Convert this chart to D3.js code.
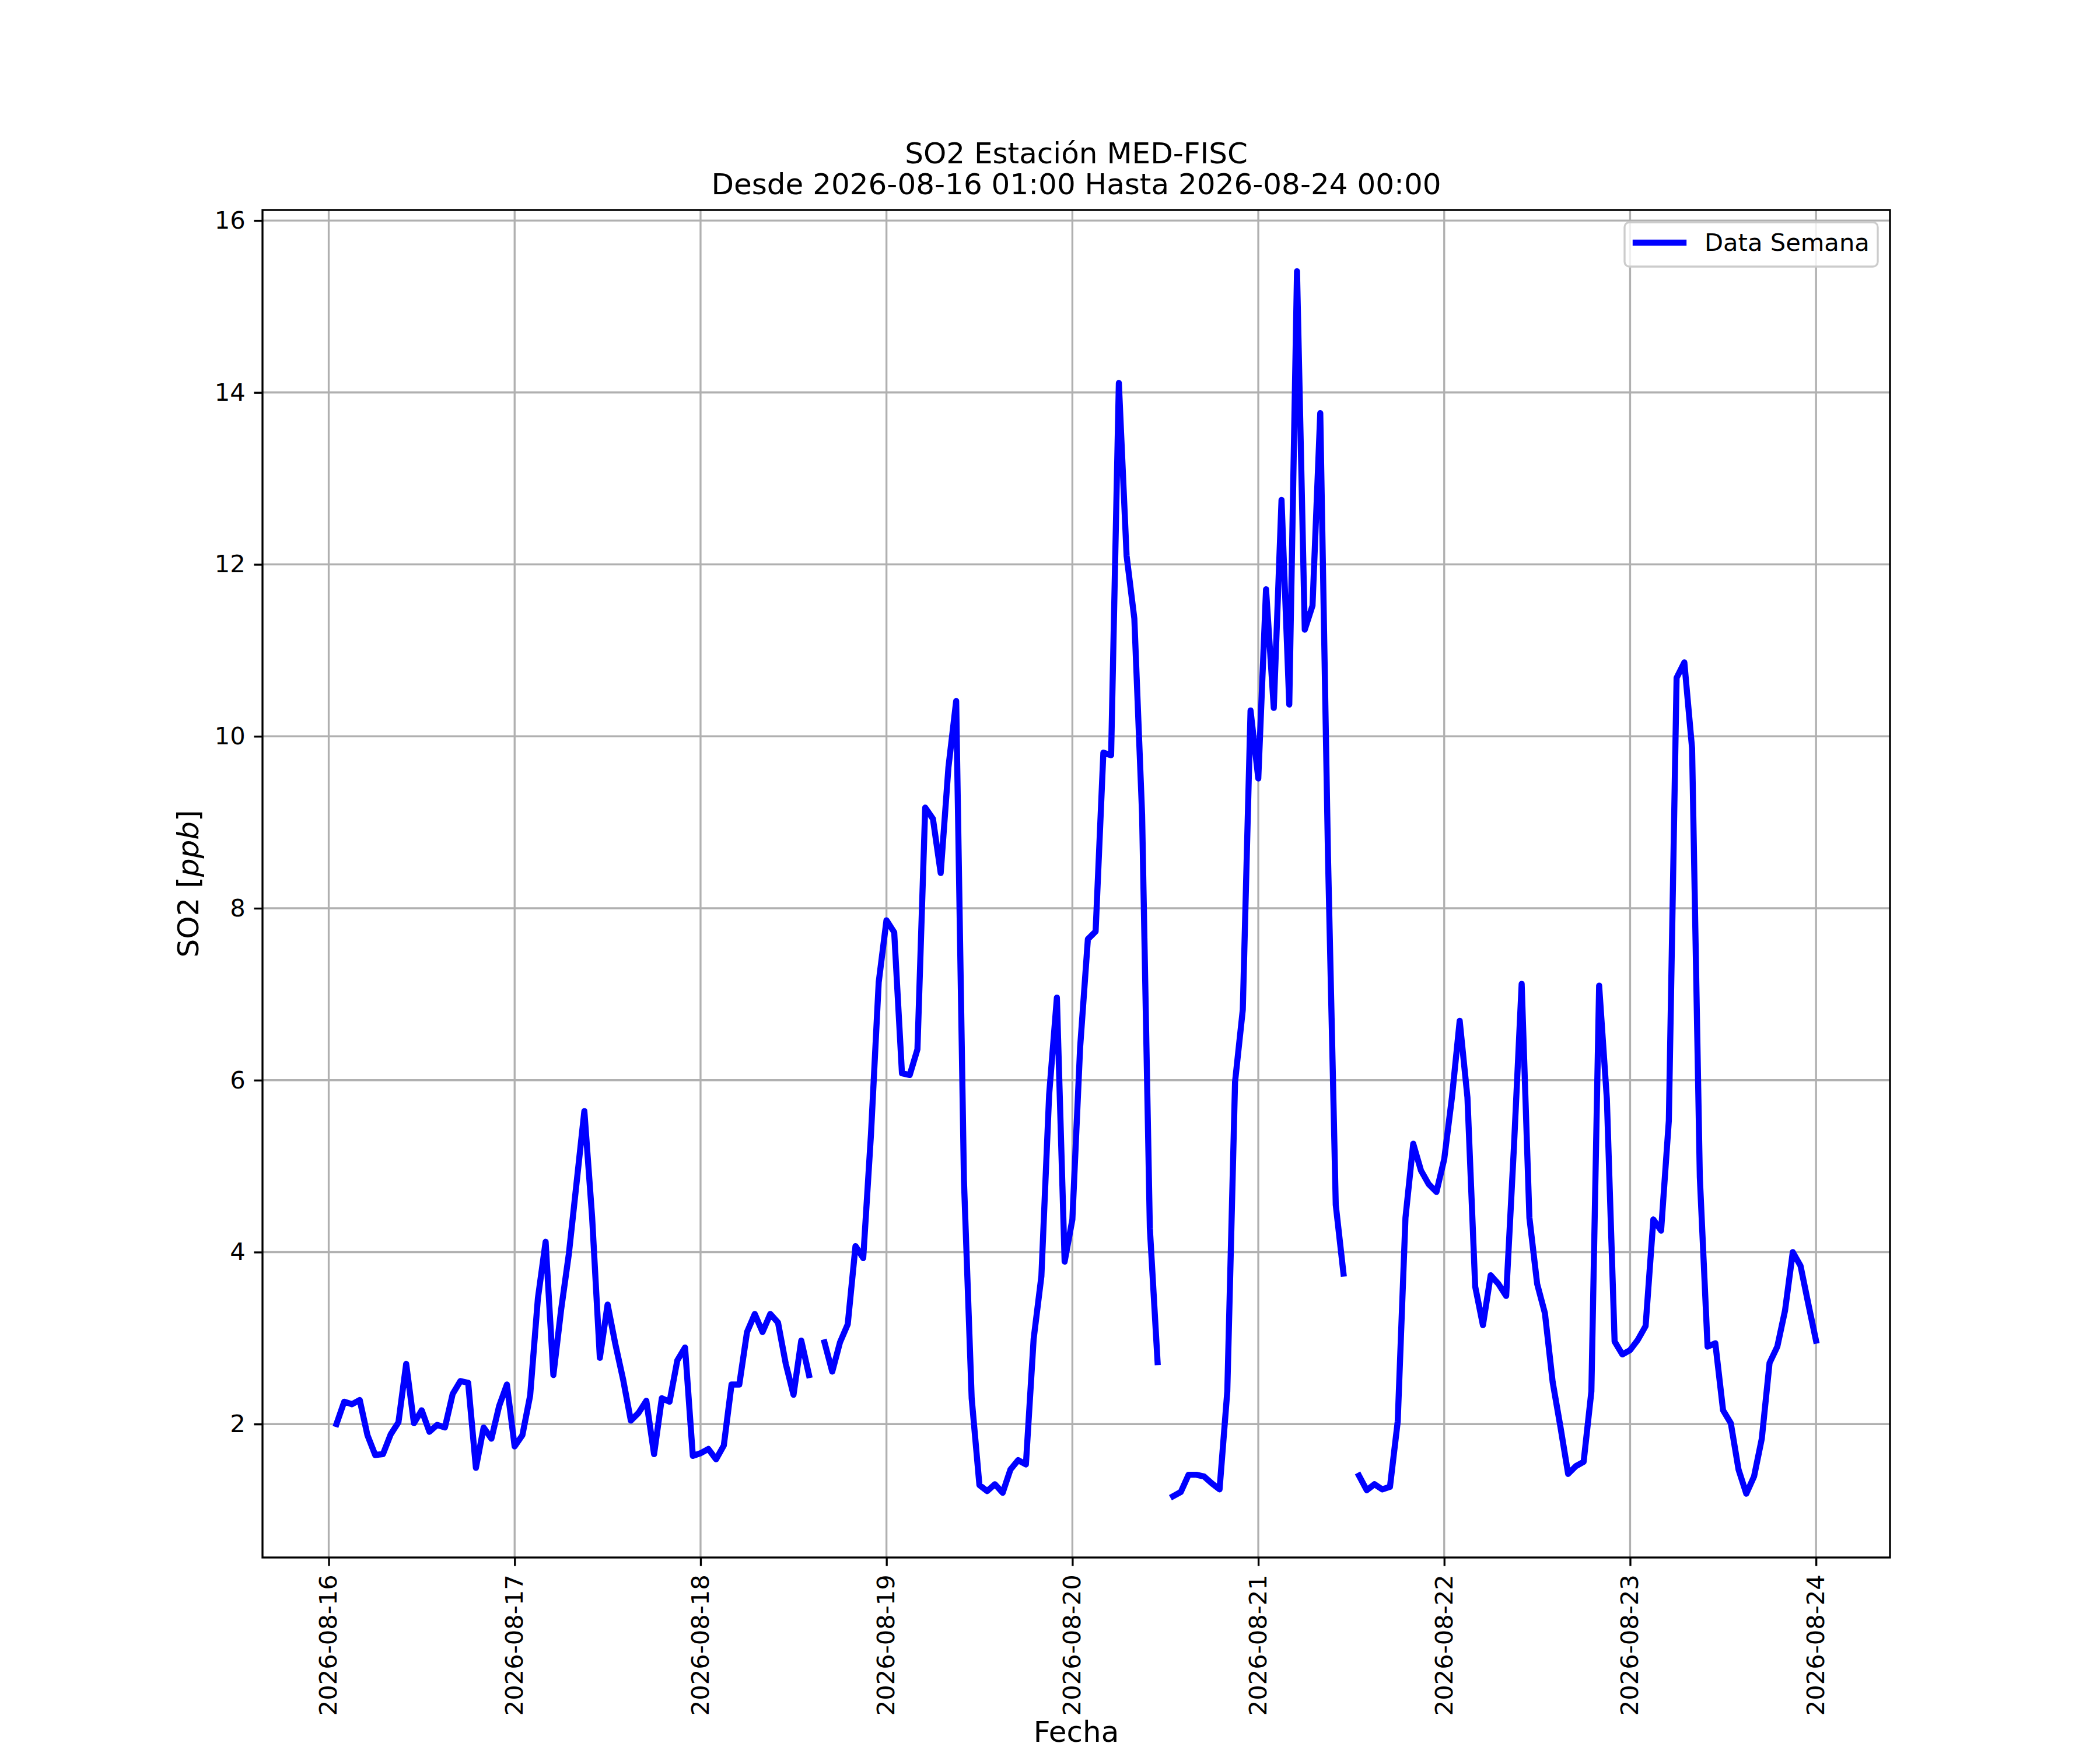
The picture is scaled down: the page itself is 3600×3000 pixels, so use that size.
<!DOCTYPE html>
<html>
<head>
<meta charset="utf-8">
<script src="https://cdn.jsdelivr.net/npm/d3@7"></script>
<style>
  body { margin: 0; background: #fff; }
  svg { display: block; font-family: 'DejaVu Sans', sans-serif; }
</style>
</head>
<body>
<div id="chart"></div>
<script>
// hourly SO2 readings, hour 01 .. 24 (24 = 00:00 next day), null = no data
const day16 = [2.00, 2.26, 2.23, 2.28, 1.87, 1.64, 1.65, 1.88, 2.02, 2.70, 2.01, 2.16,
  1.91, 1.99, 1.96, 2.35, 2.50, 2.48, 1.49, 1.96, 1.83, 2.21, 2.46, 1.74]
const day17 = [1.87, 2.33, 3.46, 4.12, 2.57, 3.33, 3.98, 4.81, 5.64, 4.41, 2.77, 3.39,
  2.93, 2.52, 2.04, 2.13, 2.27, 1.65, 2.30, 2.26, 2.74, 2.89, 1.63, 1.66]
const day18 = [1.71, 1.59, 1.75, 2.46, 2.46, 3.07, 3.28, 3.07, 3.28, 3.18, 2.70, 2.34,
  2.97, 2.57, null, 2.95, 2.61, 2.95, 3.16, 4.07, 3.93, 5.37, 7.14, 7.86]
const day19 = [7.72, 6.08, 6.06, 6.36, 9.17, 9.04, 8.41, 9.64, 10.41, 4.84, 2.30, 1.29,
  1.22, 1.30, 1.20, 1.47, 1.58, 1.53, 2.99, 3.72, 5.83, 6.96, 3.89, 4.38]
const day20 = [6.38, 7.64, 7.73, 9.81, 9.78, 14.11, 12.10, 11.37, 9.09, 4.28, 2.72, null,
  1.16, 1.21, 1.41, 1.41, 1.39, 1.31, 1.24, 2.38, 5.98, 6.82, 10.30, 9.51]
const day21 = [11.71, 10.33, 12.75, 10.37, 15.41, 11.24, 11.52, 13.76, 8.60, 4.55, 3.75, null,
  1.40, 1.23, 1.30, 1.24, 1.27, 2.03, 4.40, 5.26, 4.95, 4.79, 4.70, 5.08]
const day22 = [5.80, 6.69, 5.80, 3.60, 3.15, 3.73, 3.63, 3.49, 5.22, 7.12, 4.40, 3.63,
  3.29, 2.49, 1.97, 1.42, 1.51, 1.56, 2.38, 7.10, 5.78, 2.96, 2.81, 2.86]
const day23 = [2.98, 3.14, 4.38, 4.25, 5.53, 10.68, 10.86, 9.86, 4.87, 2.90, 2.94, 2.16,
  2.01, 1.47, 1.19, 1.39, 1.83, 2.71, 2.90, 3.32, 4.00, 3.84, 3.40, 2.97]

const days = ['2026-08-16', '2026-08-17', '2026-08-18', '2026-08-19',
  '2026-08-20', '2026-08-21', '2026-08-22', '2026-08-23', '2026-08-24']
const yTicks = [2, 4, 6, 8, 10, 12, 14, 16]

const titleLines = ['SO2 Estación MED-FISC', 'Desde 2026-08-16 01:00 Hasta 2026-08-24 00:00']
const xLabel = 'Fecha'
const seriesName = 'Data Semana'

let parseDay = d3.utcParse('%Y-%m-%d')

// build the series: each day array starts at 01:00 of that day
let data = []
;[day16, day17, day18, day19, day20, day21, day22, day23].forEach((arr, i) => {
  let d0 = parseDay(days[i])
  arr.forEach((v, h) => {
    data.push({ t: d3.utcHour.offset(d0, h + 1), v: v })
  })
})

/**
 * Layout (matplotlib 12x10in @ 300dpi)
 */
let W = 3600
let H = 3000
let m = { left: 450, right: 3240, top: 360, bottom: 2670 }
let pt = 300 / 72
let font = "'DejaVu Sans', sans-serif"
let fsTick = 10 * pt
let fsLabel = 12 * pt
let c_blue = '#0000ff'
let c_grid = '#b0b0b0'

let svg = d3.select('#chart')
  .append('svg')
  .attr('width', W)
  .attr('height', H)

svg.append('rect').attr('width', W).attr('height', H).attr('fill', '#fff')

// scales with 5% margins like matplotlib autoscale
let tExt = d3.extent(data, (d) => d.t)
let tPad = (tExt[1] - tExt[0]) * 0.05
let x = d3.scaleUtc()
  .domain([new Date(+tExt[0] - tPad), new Date(+tExt[1] + tPad)])
  .range([m.left, m.right])

let vals = data.filter((d) => d.v != null)
let vExt = d3.extent(vals, (d) => d.v)
let vPad = (vExt[1] - vExt[0]) * 0.05
let y = d3.scaleLinear()
  .domain([vExt[0] - vPad, vExt[1] + vPad])
  .range([m.bottom, m.top])

let xTicks = days.map(parseDay)

// grid
let g = svg.append('g')
g.selectAll('.gx')
  .data(xTicks)
  .enter()
  .append('line')
  .attr('x1', (d) => x(d)).attr('x2', (d) => x(d))
  .attr('y1', m.top).attr('y2', m.bottom)
  .attr('stroke', c_grid)
  .attr('stroke-width', 0.8 * pt)
g.selectAll('.gy')
  .data(yTicks)
  .enter()
  .append('line')
  .attr('x1', m.left).attr('x2', m.right)
  .attr('y1', (d) => y(d)).attr('y2', (d) => y(d))
  .attr('stroke', c_grid)
  .attr('stroke-width', 0.8 * pt)

// the series
let line = d3.line()
  .defined((d) => d.v != null)
  .x((d) => x(d.t))
  .y((d) => y(d.v))

svg.append('path')
  .datum(data)
  .attr('d', line)
  .attr('fill', 'none')
  .attr('stroke', c_blue)
  .attr('stroke-width', 2.5 * pt)
  .attr('stroke-linejoin', 'round')
  .attr('stroke-linecap', 'square')

// axes
let xAxis = d3.axisBottom(x)
  .tickValues(xTicks)
  .tickFormat(d3.utcFormat('%Y-%m-%d'))
  .tickSizeInner(3.5 * pt)
  .tickSizeOuter(0)
  .tickPadding(3.5 * pt)

let ax = svg.append('g')
  .attr('transform', `translate(0,${m.bottom})`)
  .call(xAxis)
  .attr('font-family', null)
  .attr('font-size', null)
ax.select('.domain').remove()
ax.selectAll('line').attr('stroke', '#000').attr('stroke-width', 0.8 * pt)
ax.selectAll('text')
  .attr('fill', '#000')
  .style('font-family', font)
  .style('font-size', fsTick + 'px')
  .attr('transform', 'rotate(-90)')
  .attr('x', -7 * pt)
  .attr('y', 0)
  .attr('dy', '0.32em')
  .attr('text-anchor', 'end')

let yAxis = d3.axisLeft(y)
  .tickValues(yTicks)
  .tickFormat(d3.format('d'))
  .tickSizeInner(3.5 * pt)
  .tickSizeOuter(0)
  .tickPadding(3.5 * pt)

let ay = svg.append('g')
  .attr('transform', `translate(${m.left},0)`)
  .call(yAxis)
  .attr('font-family', null)
  .attr('font-size', null)
ay.select('.domain').remove()
ay.selectAll('line').attr('stroke', '#000').attr('stroke-width', 0.8 * pt)
ay.selectAll('text')
  .attr('fill', '#000')
  .style('font-family', font)
  .style('font-size', fsTick + 'px')

// frame
svg.append('rect')
  .attr('x', m.left).attr('y', m.top)
  .attr('width', m.right - m.left)
  .attr('height', m.bottom - m.top)
  .attr('fill', 'none')
  .attr('stroke', '#000')
  .attr('stroke-width', 0.8 * pt)

// title
let cx = (m.left + m.right) / 2
svg.selectAll('.title')
  .data(titleLines)
  .enter()
  .append('text')
  .text((d) => d)
  .attr('x', cx)
  .attr('y', (d, i) => 280 + i * 53)
  .attr('text-anchor', 'middle')
  .style('font-size', fsLabel + 'px')

// axis labels
svg.append('text')
  .text(xLabel)
  .attr('x', cx)
  .attr('y', 2986)
  .attr('text-anchor', 'middle')
  .style('font-size', fsLabel + 'px')

let yl = svg.append('text')
  .attr('transform', `translate(340,${(m.top + m.bottom) / 2}) rotate(-90)`)
  .attr('text-anchor', 'middle')
  .style('font-size', fsLabel + 'px')
yl.append('tspan').text('SO2 [')
yl.append('tspan').text('ppb').style('font-style', 'italic')
yl.append('tspan').text(']')

// legend
let lg = svg.append('g')
lg.append('rect')
  .attr('x', 2785).attr('y', 381)
  .attr('width', 434).attr('height', 76)
  .attr('rx', 0.2 * fsTick)
  .attr('fill', '#fff')
  .attr('fill-opacity', 0.8)
  .attr('stroke', '#cccccc')
  .attr('stroke-width', 0.8 * pt)
lg.append('line')
  .attr('x1', 2804).attr('x2', 2886)
  .attr('y1', 416).attr('y2', 416)
  .attr('stroke', c_blue)
  .attr('stroke-width', 2.5 * pt)
  .attr('stroke-linecap', 'square')
lg.append('text')
  .text(seriesName)
  .attr('x', 2922)
  .attr('y', 430)
  .style('font-size', fsTick + 'px')
</script>
</body>
</html>
